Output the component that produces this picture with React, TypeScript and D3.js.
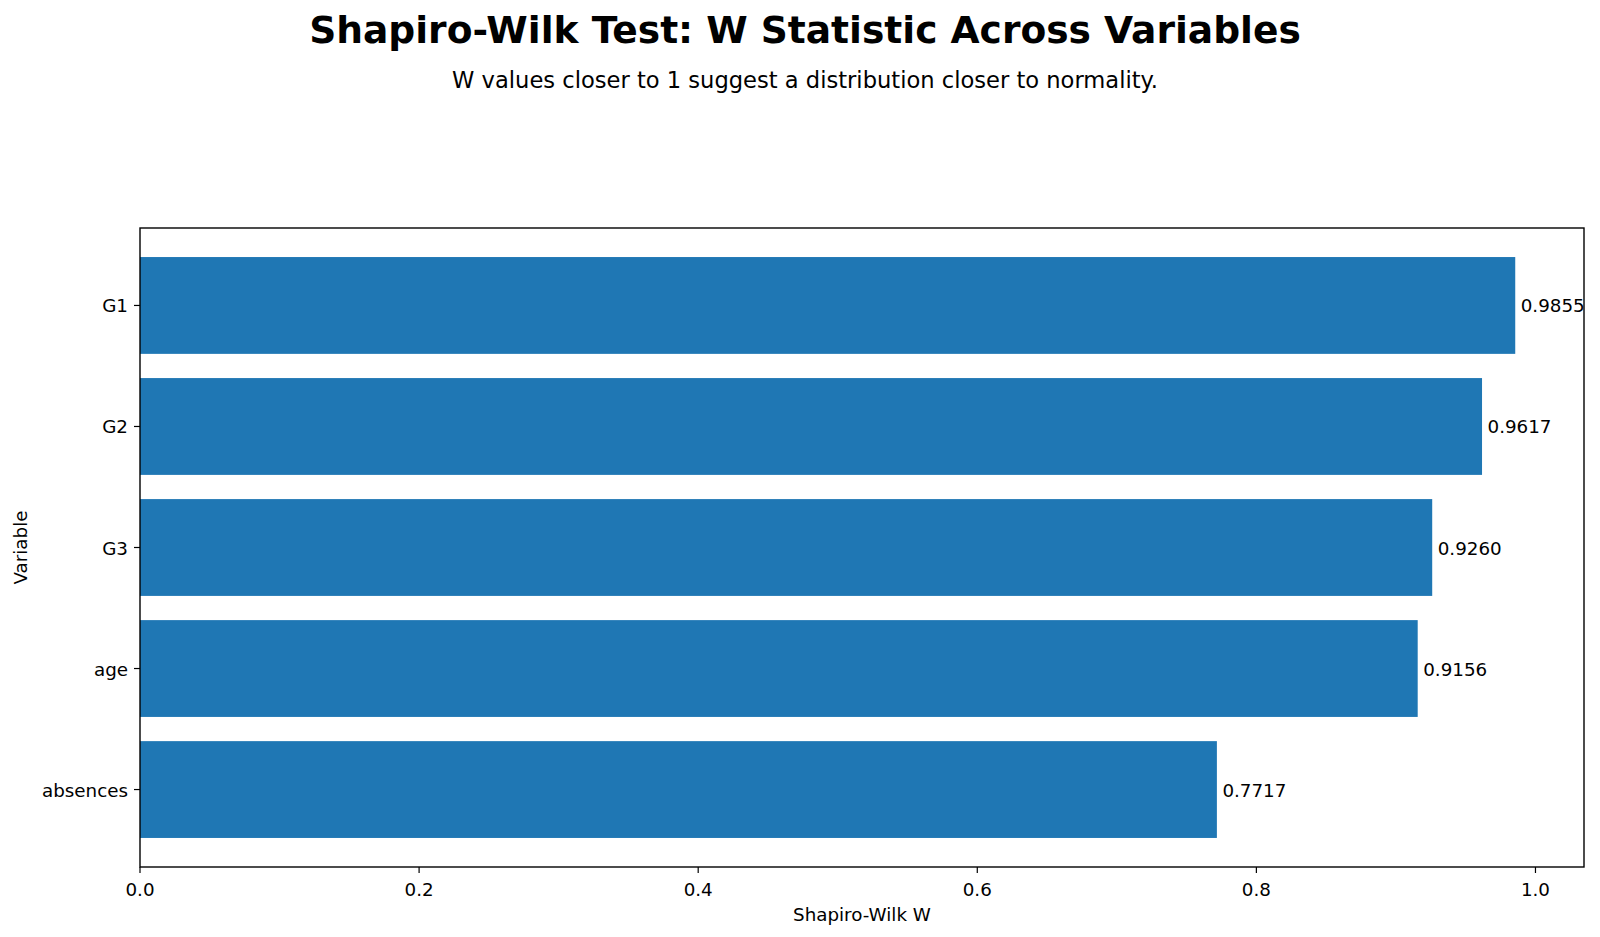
import * as d3 from "d3";

const variables = ["absences", "age", "G3", "G2", "G1"];
const wValues = [0.7717, 0.9156, 0.926, 0.9617, 0.9855];
const xTicks = [0, 0.2, 0.4, 0.6, 0.8, 1.0];

const font = "'DejaVu Sans', sans-serif";
const labelSize = 18.3;

export default function App() {
  const width = 1600;
  const height = 937;
  const margin = { top: 228, right: 16, bottom: 70, left: 140 };
  const plotBottom = height - margin.bottom;
  const plotRight = width - margin.right;

  const maxW = d3.max(wValues) ?? 1;
  const x = d3
    .scaleLinear()
    .domain([0, maxW * 1.05])
    .range([margin.left, plotRight]);
  // matplotlib barh: bars 0.8 tall, 5% margins on each side
  const y = d3
    .scaleLinear()
    .domain([-0.4 - 0.24, variables.length - 0.6 + 0.24])
    .range([plotBottom, margin.top]);
  const barH = y(0) - y(0.8);
  const titleX = width / 2 + 5;

  return (
    <svg width={width} height={height} viewBox={`0 0 ${width} ${height}`} style={{ display: "block", margin: -8 }}>
      <rect width={width} height={height} fill="#fff" />
      <text x={titleX} y={43} textAnchor="middle" fontFamily={font} fontWeight="bold" fontSize={37.6}>
        Shapiro-Wilk Test: W Statistic Across Variables
      </text>
      <text x={titleX} y={88} textAnchor="middle" fontFamily={font} fontSize={22.6}>
        W values closer to 1 suggest a distribution closer to normality.
      </text>

      {variables.map((name, i) => (
        <g key={name}>
          <rect
            x={x(0)}
            y={y(i) - barH / 2}
            width={x(wValues[i]) - x(0)}
            height={barH}
            fill="#1f77b4"
          />
          <text x={x(wValues[i]) + 5.5} y={y(i) + 7} fontFamily={font} fontSize={labelSize}>
            {wValues[i].toFixed(4)}
          </text>
          <line x1={margin.left - 6} x2={margin.left} y1={y(i)} y2={y(i)} stroke="#000" strokeWidth={1.2} />
          <text x={margin.left - 12} y={y(i) + 7} textAnchor="end" fontFamily={font} fontSize={labelSize}>
            {name}
          </text>
        </g>
      ))}

      {xTicks.map((t) => (
        <g key={t}>
          <line x1={x(t)} x2={x(t)} y1={plotBottom} y2={plotBottom + 6} stroke="#000" strokeWidth={1.2} />
          <text x={x(t)} y={896} textAnchor="middle" fontFamily={font} fontSize={labelSize}>
            {t.toFixed(1)}
          </text>
        </g>
      ))}

      <rect
        x={margin.left}
        y={margin.top}
        width={plotRight - margin.left}
        height={plotBottom - margin.top}
        fill="none"
        stroke="#000"
        strokeWidth={1.4}
      />

      <text x={(margin.left + plotRight) / 2} y={921} textAnchor="middle" fontFamily={font} fontSize={labelSize}>
        Shapiro-Wilk W
      </text>
      <text
        transform={`translate(27, ${(margin.top + plotBottom) / 2}) rotate(-90)`}
        textAnchor="middle"
        fontFamily={font}
        fontSize={labelSize}
      >
        Variable
      </text>
    </svg>
  );
}
